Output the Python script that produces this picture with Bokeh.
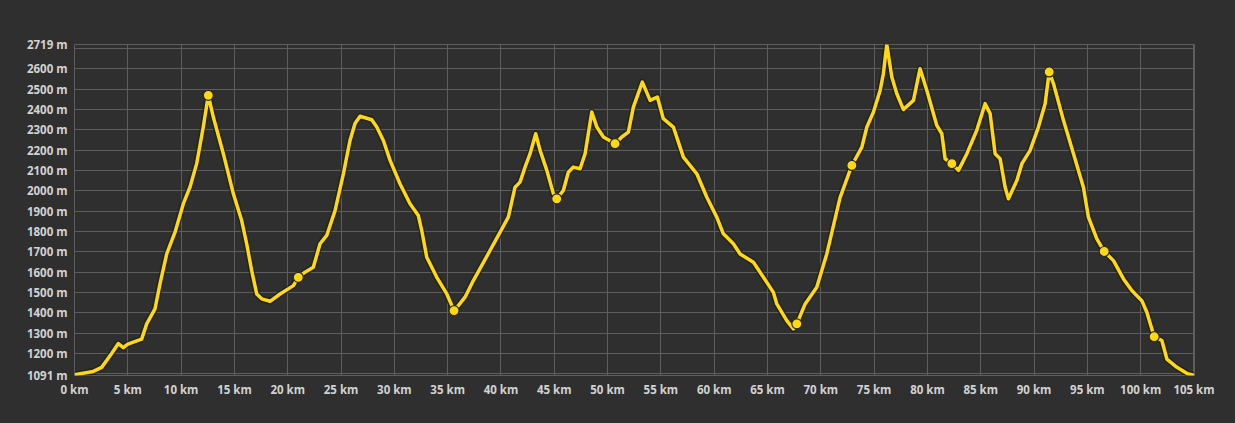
from bokeh.plotting import figure
from bokeh.models import FixedTicker, CustomJSTickFormatter, Range1d, ColumnDataSource, GlobalInlineStyleSheet
from bokeh.embed import file_html
from bokeh.resources import INLINE

# distance along the route (km)
distance_km = [0.0, 1.76, 2.55, 3.5, 4.11, 4.58, 5.0, 6.3, 6.77, 7.55, 8.02, 8.65, 9.43,
               10.21, 10.83, 11.46, 12.08, 12.55, 13.02, 13.96, 14.9, 15.68, 16.15, 16.62,
               17.09, 17.56, 18.34, 19.28, 20.53, 20.99, 21.62, 22.4, 23.03, 23.66, 24.44,
               25.22, 25.84, 26.31, 26.78, 27.88, 28.35, 28.97, 29.6, 30.53, 31.47, 32.25,
               32.57, 33.04, 33.98, 34.92, 35.6, 36.0, 36.63, 37.41, 38.98, 39.92, 40.69,
               41.32, 41.79, 42.26, 42.73, 43.26, 43.67, 44.3, 44.92, 45.23, 45.85, 46.32,
               46.79, 47.42, 47.89, 48.52, 48.99, 49.61, 50.7, 51.33, 51.95, 52.42, 53.26,
               53.99, 54.67, 55.23, 56.17, 57.11, 58.37, 59.31, 60.24, 60.86, 61.8, 62.43,
               63.68, 64.62, 65.55, 65.87, 66.81, 67.43, 67.75, 68.53, 69.62, 70.56, 71.8,
               72.91, 73.85, 74.32, 74.94, 75.57, 75.87, 76.19, 76.66, 77.13, 77.75, 78.69,
               79.31, 79.94, 80.88, 81.35, 81.66, 82.29, 82.91, 83.7, 84.63, 85.41, 85.88,
               86.35, 86.82, 87.29, 87.6, 88.39, 88.86, 89.63, 90.41, 91.04, 91.42, 91.82,
               92.76, 93.7, 94.63, 95.1, 95.89, 96.58, 97.45, 98.39, 99.17, 100.11, 100.58,
               101.27, 101.99, 102.46, 103.4, 104.4, 105.05]

# elevation (m)
elevation_m = [1095, 1111, 1131, 1200, 1248, 1228, 1245, 1270, 1345, 1419, 1542, 1689, 1796,
               1936, 2017, 2133, 2313, 2469, 2362, 2182, 1985, 1853, 1739, 1607,
               1492, 1468, 1456, 1492, 1533, 1574, 1599, 1623, 1739, 1780, 1902,
               2083, 2247, 2330, 2366, 2349, 2313, 2247, 2149, 2034, 1936, 1878,
               1804, 1673, 1574, 1492, 1410, 1435, 1476, 1558, 1706, 1796, 1870,
               2017, 2042, 2116, 2182, 2280, 2198, 2100, 1985, 1960, 2001, 2091,
               2116, 2108, 2182, 2387, 2313, 2264, 2231, 2264, 2288, 2411, 2534,
               2444, 2461, 2354, 2313, 2165, 2083, 1968, 1870, 1788, 1739, 1689,
               1648, 1574, 1500, 1443, 1361, 1320, 1345, 1443, 1525, 1689, 1965,
               2124, 2214, 2313, 2387, 2494, 2576, 2719, 2559, 2477, 2399, 2444,
               2600, 2494, 2321, 2280, 2157, 2133, 2100, 2182, 2297, 2428, 2379,
               2182, 2157, 2017, 1960, 2050, 2133, 2198, 2313, 2428, 2584, 2527,
               2346, 2182, 2017, 1870, 1763, 1701, 1656, 1566, 1509, 1459, 1402,
               1282, 1263, 1172, 1131, 1100, 1091]

# waypoints marked on the profile
waypoint_km = [12.55, 20.99, 35.6, 45.23, 50.7, 67.75, 72.91, 82.29, 91.42, 96.58, 101.27]
waypoint_m = [2469, 1574, 1410, 1960, 2231, 1345, 2124, 2133, 2584, 1701, 1282]

# axis ticks
x_ticks = [0, 5, 10, 15, 20, 25, 30, 35, 40, 45, 50, 55, 60, 65, 70, 75, 80, 85, 90, 95, 100, 105]
y_label_ticks = [1091, 1200, 1300, 1400, 1500, 1600, 1700, 1800, 1900, 2000, 2100, 2200,
                 2300, 2400, 2500, 2600, 2719]
y_grid_ticks = [1100, 1200, 1300, 1400, 1500, 1600, 1700, 1800, 1900, 2000, 2100, 2200,
                2300, 2400, 2500, 2600, 2700, 2719]

BG = "#2f2f2f"
GRID = "#5e5e5e"
TEXT = "#d2d2d2"
YELLOW = "#ffd90f"

p = figure(width=1235, height=423, output_backend="svg", toolbar_location=None,
           x_range=Range1d(0, 105.05), y_range=Range1d(1091, 2719),
           min_border_left=74, min_border_right=41, min_border_top=44, min_border_bottom=48)
p.background_fill_color = BG
p.border_fill_color = BG
p.outline_line_color = GRID
p.outline_line_width = 1

p.xaxis.ticker = FixedTicker(ticks=x_ticks)
p.yaxis.ticker = FixedTicker(ticks=y_label_ticks)
p.xgrid.ticker = FixedTicker(ticks=x_ticks)
p.ygrid.ticker = FixedTicker(ticks=y_grid_ticks)
p.xaxis.formatter = CustomJSTickFormatter(code="return tick.toFixed(0) + ' km';")
p.yaxis.formatter = CustomJSTickFormatter(code="return tick.toFixed(0) + ' m';")

for ax in (p.xaxis[0], p.yaxis[0]):
    ax.axis_line_color = None
    ax.major_tick_line_color = None
    ax.minor_tick_line_color = None
    ax.major_tick_out = 0
    ax.major_tick_in = 0
    ax.minor_tick_out = 0
    ax.minor_tick_in = 0
    ax.major_label_text_color = TEXT
    ax.major_label_text_font = "Open Sans"
    ax.major_label_text_font_style = "bold"
    ax.major_label_text_font_size = "11.5px"
p.yaxis.major_label_standoff = 7
p.xaxis.major_label_standoff = 6

for g in (p.xgrid[0], p.ygrid[0]):
    g.grid_line_color = GRID
    g.grid_line_width = 1

src = ColumnDataSource(dict(km=distance_km, m=elevation_m))
wp = ColumnDataSource(dict(km=waypoint_km, m=waypoint_m))

p.line("km", "m", source=src, line_color="#1c1c1c", line_width=6.5, line_alpha=0.7,
       line_join="round")
p.line("km", "m", source=src, line_color=YELLOW, line_width=3.5, line_join="round")
p.scatter("km", "m", source=wp, size=10, fill_color=YELLOW, line_color="#2a2a2a",
          line_width=1.2)

p.stylesheets = [GlobalInlineStyleSheet(css="html, body { background: #2f2f2f; }")]

open("out.html", "w").write(file_html(p, INLINE))
